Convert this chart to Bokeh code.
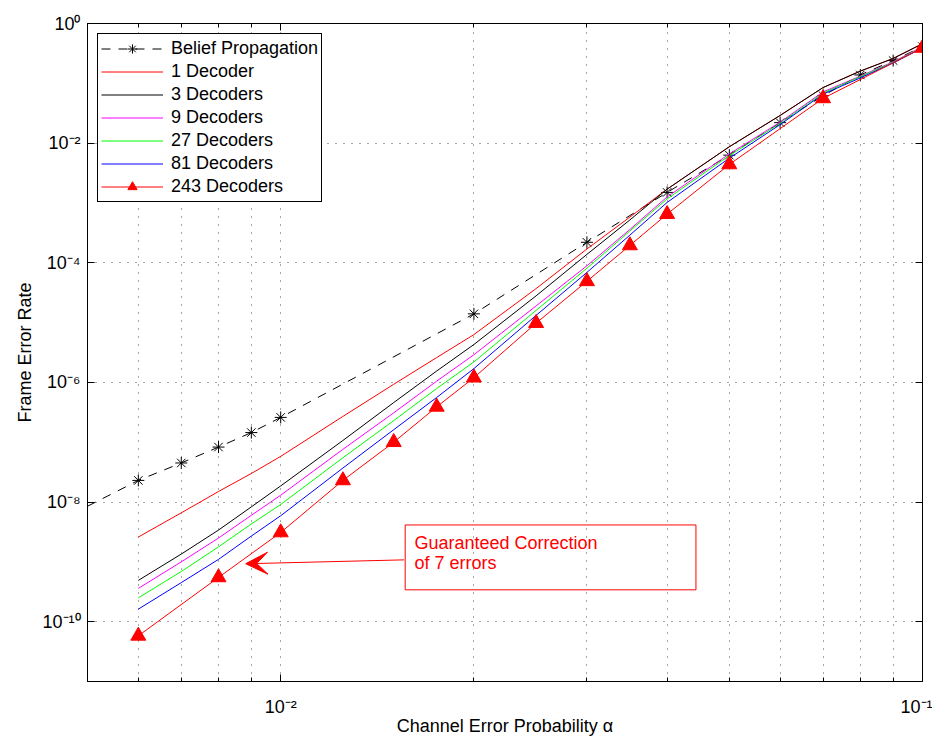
from bokeh.plotting import figure
from bokeh.models import (FixedTicker, LogAxis, Legend, LegendItem, Arrow, VeeHead,
                          BoxAnnotation, Label, CustomJSTickFormatter, Range1d)
from bokeh.embed import file_html
from bokeh.resources import INLINE

FONT = "Liberation Sans"

# ---------------- data ----------------
alpha = [0.006, 0.007, 0.008, 0.009, 0.01, 0.0125, 0.015, 0.0175, 0.02, 0.025,
         0.03, 0.035, 0.04, 0.05, 0.06, 0.07, 0.08, 0.09, 0.1]

bp_alpha = [0.005, 0.006, 0.007, 0.008, 0.009, 0.01, 0.02, 0.03, 0.04, 0.05,
            0.06, 0.07, 0.08, 0.09, 0.1]
bp_fer = [8.5e-9, 2.3e-8, 4.5e-8, 8.3e-8, 1.45e-7, 2.6e-7, 1.4e-5, 2.2e-4, 1.5e-3,
          6.3e-3, 2.2e-2, 6.2e-2, 0.138, 0.24, 0.41]

dec1 = [2.6e-9, 6.6e-9, 1.5e-8, 3.0e-8, 5.8e-8, 2.7e-7, 9.3e-7, 2.6e-6, 6.3e-6, 3.7e-5,
        1.7e-4, 5.8e-4, 1.7e-3, 8.7e-3, 2.9e-2, 8.5e-2, 0.16, 0.26, 0.46]
dec3 = [4.9e-10, 1.35e-9, 3.4e-9, 8.3e-9, 1.86e-8, 1.07e-7, 4.6e-7, 1.55e-6, 4.3e-6, 2.8e-5,
        1.38e-4, 5.2e-4, 1.7e-3, 8.7e-3, 2.9e-2, 8.5e-2, 0.16, 0.26, 0.46]
dec9 = [3.6e-10, 1.0e-9, 2.5e-9, 6.0e-9, 1.3e-8, 7.6e-8, 3.1e-7, 1.05e-6, 2.9e-6, 1.9e-5,
        8.9e-5, 3.6e-4, 1.26e-3, 6.6e-3, 2.24e-2, 7.2e-2, 0.132, 0.229, 0.41]
dec27 = [2.5e-10, 6.9e-10, 1.78e-9, 4.3e-9, 9.1e-9, 5.5e-8, 2.3e-7, 7.9e-7, 2.2e-6, 1.6e-5,
         8.1e-5, 3.4e-4, 1.17e-3, 6.2e-3, 2.14e-2, 6.9e-2, 0.129, 0.224, 0.40]
dec81 = [1.62e-10, 4.5e-10, 1.1e-9, 2.7e-9, 5.9e-9, 3.7e-8, 1.62e-7, 5.6e-7, 1.7e-6, 1.32e-5,
         6.9e-5, 2.9e-4, 1.02e-3, 5.6e-3, 2.04e-2, 6.6e-2, 0.123, 0.219, 0.39]

dec243_alpha = [0.006, 0.008, 0.01, 0.0125, 0.015, 0.0175, 0.02, 0.025, 0.03, 0.035,
                0.04, 0.05, 0.07, 0.1]
dec243 = [5.8e-11, 5.5e-10, 3.1e-9, 2.3e-8, 1.0e-7, 3.9e-7, 1.2e-6, 9.8e-6, 4.9e-5, 1.95e-4,
          6.5e-4, 4.4e-3, 5.6e-2, 0.39]

x_major = [0.01, 0.1]
x_minor = [0.005, 0.006, 0.007, 0.008, 0.009, 0.02, 0.03, 0.04, 0.05, 0.06, 0.07, 0.08, 0.09]
y_major = [1e-10, 1e-8, 1e-6, 1e-4, 1e-2, 1e0]

legend_labels = ["Belief Propagation", "1 Decoder", "3 Decoders", "9 Decoders",
                 "27 Decoders", "81 Decoders", "243 Decoders"]

note_lines = ["Guaranteed Correction", "of 7 errors"]
arrow_from = (0.01556, 1.08e-9)
arrow_to = (0.00882, 9.3e-10)
note_box = dict(left=0.01563, right=0.04436, top=4.14e-9, bottom=3.41e-10)

# ---------------- figure ----------------
p = figure(x_axis_type="log", y_axis_type="log",
           x_range=Range1d(0.005, 0.1), y_range=Range1d(1e-11, 1.0),
           frame_width=835, frame_height=658,
           min_border_left=87, min_border_right=10, min_border_top=23, min_border_bottom=50,
           output_backend="svg", toolbar_location=None,
           background_fill_color="white", border_fill_color="white")
p.outline_line_color = "black"
p.outline_line_width = 1

sup_code = """
const e = Math.round(Math.log10(tick));
const sup = {'0':'\u2070','1':'\u00b9','2':'\u00b2','3':'\u00b3','4':'\u2074','5':'\u2075',
             '6':'\u2076','7':'\u2077','8':'\u2078','9':'\u2079','-':'\u207b'};
return '10' + String(e).split('').map(c => sup[c]).join('');
"""
xt = FixedTicker(ticks=x_major, minor_ticks=x_minor)
yt = FixedTicker(ticks=y_major, minor_ticks=[])

for ax, tk in ((p.xaxis[0], xt), (p.yaxis[0], yt)):
    ax.ticker = tk
    ax.formatter = CustomJSTickFormatter(code=sup_code)
    ax.major_label_text_font = FONT
    ax.major_label_text_font_size = "18px"
    ax.major_label_text_color = "black"
    ax.axis_label_text_font = FONT
    ax.axis_label_text_font_size = "18px"
    ax.axis_label_text_font_style = "normal"
    ax.axis_label_text_color = "black"
    ax.axis_line_color = "black"
    ax.major_tick_in = 7
    ax.major_tick_out = 0
    ax.minor_tick_in = 4
    ax.minor_tick_out = 0
    ax.major_tick_line_color = "black"
    ax.minor_tick_line_color = "black"
    ax.major_label_standoff = 7
    ax.axis_label_standoff = 4

p.xaxis[0].major_label_standoff = 15
p.xaxis[0].axis_label_standoff = -4
p.xaxis[0].axis_label = "Channel Error Probability \u03b1"
p.yaxis[0].axis_label = "Frame Error Rate"

blank = CustomJSTickFormatter(code="return '';")
top_ax = LogAxis(ticker=xt, formatter=blank, major_tick_in=7, major_tick_out=0,
                 minor_tick_in=4, minor_tick_out=0, axis_line_color="black",
                 major_label_standoff=0, major_label_text_font_size="1px")
right_ax = LogAxis(ticker=yt, formatter=blank, major_tick_in=7, major_tick_out=0,
                   minor_tick_in=4, minor_tick_out=0, axis_line_color="black",
                   major_label_standoff=0, major_label_text_font_size="1px")
p.add_layout(top_ax, "above")
p.add_layout(right_ax, "right")

for g in (p.xgrid[0], p.ygrid[0]):
    g.grid_line_color = "black"
    g.grid_line_alpha = 0.7
    g.grid_line_dash = "1 7"
    g.grid_line_width = 1
p.xgrid[0].ticker = xt
p.ygrid[0].ticker = yt
p.xgrid[0].minor_grid_line_color = "black"
p.xgrid[0].minor_grid_line_alpha = 0.7
p.xgrid[0].minor_grid_line_dash = "1 7"

# ---------------- series ----------------
items = []
r_bp_line = p.line(bp_alpha, bp_fer, line_color="black", line_width=1, line_dash="9 8")
r_bp_mark = p.scatter(bp_alpha[1:], bp_fer[1:], marker="asterisk", size=12,
                      line_color="black", line_width=1)
items.append(LegendItem(label=legend_labels[0], renderers=[r_bp_line, r_bp_mark]))

for ys, col, lab in ((dec1, "#ff0000", legend_labels[1]),
                     (dec3, "#000000", legend_labels[2]),
                     (dec9, "#ff00ff", legend_labels[3]),
                     (dec27, "#00ff00", legend_labels[4]),
                     (dec81, "#0000ff", legend_labels[5])):
    r = p.line(alpha, ys, line_color=col, line_width=1)
    items.append(LegendItem(label=lab, renderers=[r]))

r_243 = p.line(dec243_alpha, dec243, line_color="#ff0000", line_width=1)
r_243m = p.scatter(dec243_alpha, dec243, marker="triangle", size=15,
                   fill_color="#ff0000", line_color="#ff0000")
items.append(LegendItem(label=legend_labels[6], renderers=[r_243, r_243m]))

legend = Legend(items=items, location="top_left", margin=10, padding=3,
                spacing=0, label_height=23, glyph_height=23, glyph_width=62,
                label_standoff=8, label_text_font=FONT, label_text_font_size="18px",
                label_text_color="black", border_line_color="black", border_line_width=1,
                border_line_alpha=1.0,
                background_fill_color="white", background_fill_alpha=1.0)
p.add_layout(legend)

# ---------------- annotation ----------------
p.add_layout(BoxAnnotation(fill_color=None, fill_alpha=0, line_color="#ff0000",
                           line_alpha=1.0, line_width=1, **note_box))
p.add_layout(Label(x=0.01616, y=2.1e-9, text=note_lines[0], text_font=FONT,
                   text_font_size="18px", text_color="#ff0000", text_baseline="middle"))
p.add_layout(Label(x=0.01616, y=9.4e-10, text=note_lines[1], text_font=FONT,
                   text_font_size="18px", text_color="#ff0000", text_baseline="middle"))
p.add_layout(Arrow(x_start=arrow_from[0], y_start=arrow_from[1],
                   x_end=arrow_to[0], y_end=arrow_to[1],
                   line_color="#ff0000", line_width=1,
                   end=VeeHead(size=22, fill_color="#ff0000", line_color="#ff0000",
                               line_width=1)))

open("out.html", "w").write(file_html(p, INLINE))
